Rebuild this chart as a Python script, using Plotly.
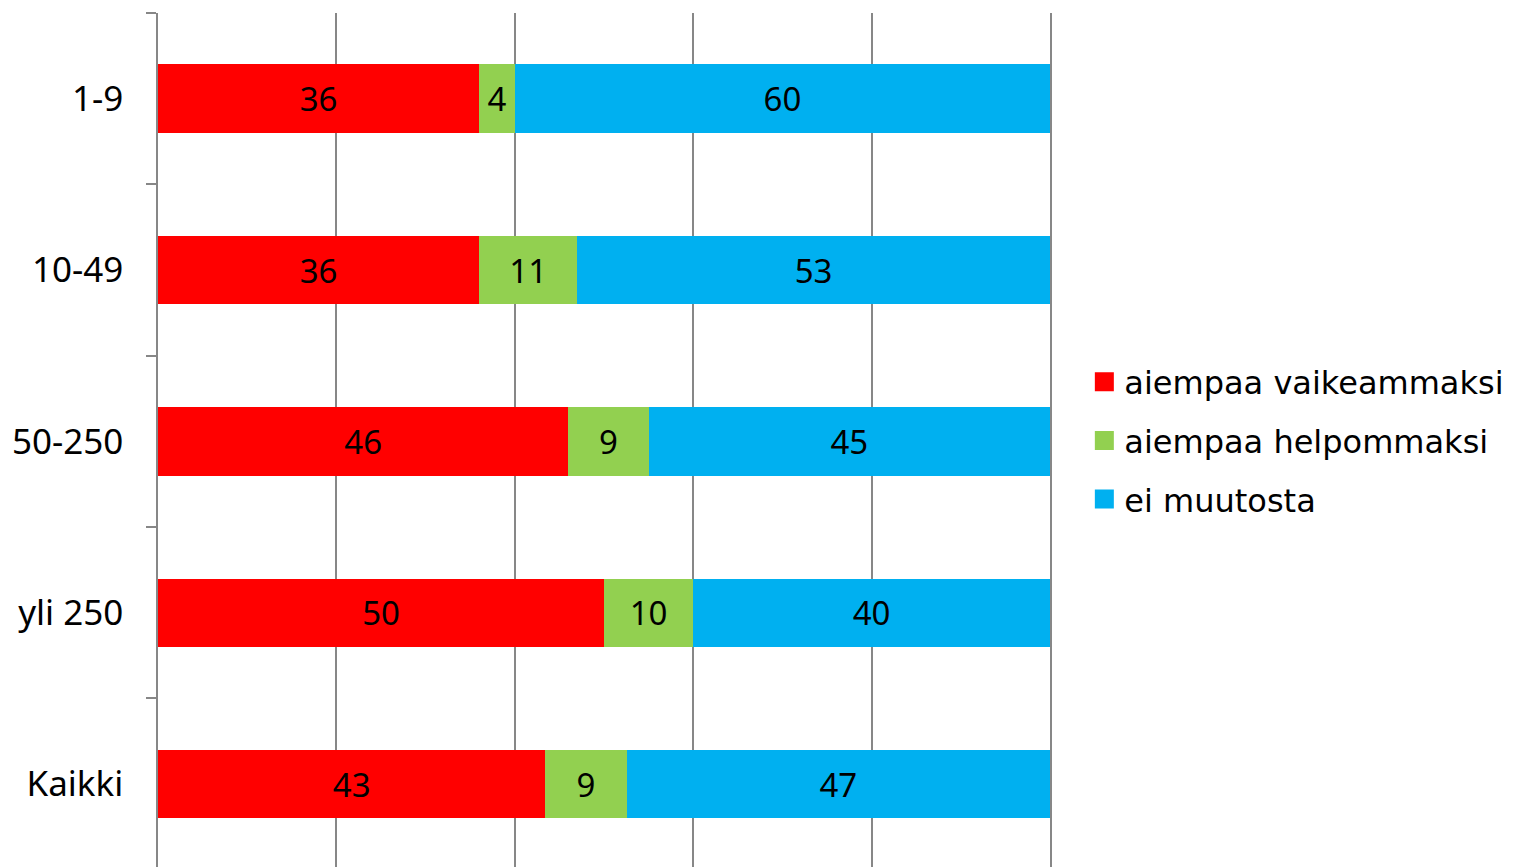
import plotly.graph_objects as go

categories = ["1-9", "10-49", "50-250", "yli 250", "Kaikki"]
series_names = ["aiempaa vaikeammaksi", "aiempaa helpommaksi", "ei muutosta"]
vaikeammaksi = [36, 36, 46, 50, 43]
helpommaksi = [4, 11, 9, 10, 9]
ei_muutosta = [60, 53, 45, 40, 47]
colors = ["#FF0000", "#92D050", "#00B0F0"]
x_ticks = [0, 20, 40, 60, 80, 100]

fig = go.Figure()
for i, (name, vals) in enumerate(zip(series_names, [vaikeammaksi, helpommaksi, ei_muutosta])):
    fig.add_trace(go.Bar(
        y=categories, x=vals, name=name, orientation="h",
        marker=dict(color=colors[i], line=dict(width=0)),
        text=[str(v) for v in vals], texttemplate="%{text}",
        textposition="inside", insidetextanchor="middle", textangle=0,
        constraintext="none",
        textfont=dict(family="Noto Sans", size=33, color="black"),
        showlegend=False, legendgroup=f"g{i}",
    ))
# legend entries with larger square swatches
for i, name in enumerate(series_names):
    fig.add_trace(go.Scatter(
        x=[None], y=[None], mode="markers", name=name,
        marker=dict(symbol="square", size=16, color=colors[i],
                    line=dict(color=colors[i], width=3)),
        legendgroup=f"g{i}", showlegend=True, hoverinfo="skip",
    ))

fig.update_layout(
    barmode="stack", barnorm="percent", bargap=0.6,
    width=1514, height=867,
    margin=dict(l=150, r=472, t=5, b=0),
    paper_bgcolor="white", plot_bgcolor="rgba(0,0,0,0)",
    showlegend=True,
    legend=dict(x=1.0385, y=0.504, xanchor="left", yanchor="middle",
                font=dict(family="DejaVu Sans", size=32, color="black"),
                traceorder="grouped", tracegroupgap=14,
                bgcolor="rgba(0,0,0,0)"),
    xaxis=dict(range=[0, 100], tickvals=x_ticks, showticklabels=False,
               showgrid=True, gridcolor="#878787", gridwidth=1.5,
               zeroline=False, showline=False, ticks=""),
    yaxis=dict(categoryorder="array", categoryarray=categories,
               range=[4.53, -0.5], showline=True, mirror=True,
               linecolor="#878787", linewidth=1.5,
               ticks="outside", tickson="boundaries", ticklen=10, tickcolor="#878787",
               tickwidth=1.5, showgrid=False,
               tickfont=dict(family="Noto Sans", size=35, color="black"),
               ticklabelstandoff=26),
)

fig.write_html("out.html")
